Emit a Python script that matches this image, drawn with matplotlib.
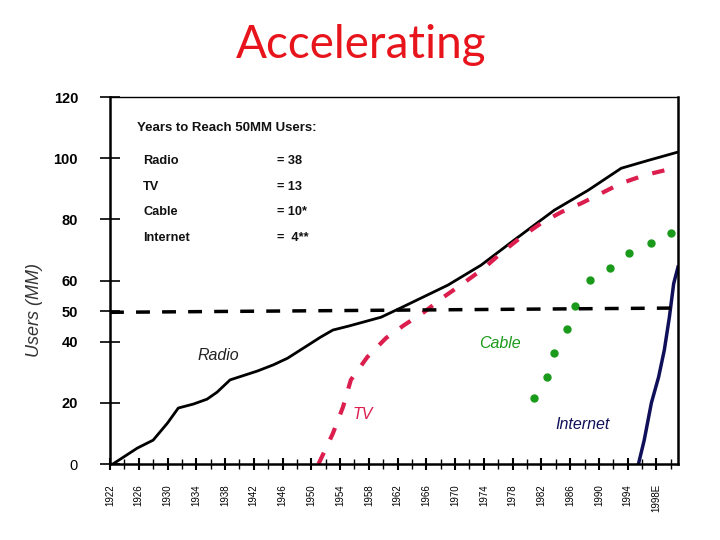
import numpy as np
import matplotlib
matplotlib.use("Agg")
import matplotlib.pyplot as plt

"""Users (MM) over time for four media, read off the reference chart"""
radio_years = [1922.4, 1925.8, 1928.0, 1930.0, 1931.5, 1933.6, 1935.5, 1936.9, 1938.7,
               1942.5, 1944.7, 1946.7, 1948.5, 1951.3, 1953.0, 1955.2, 1959.7, 1962.4,
               1969.0, 1973.6, 1978.2, 1983.8, 1988.5, 1993.1, 1996.9, 2001.0]
radio_users = [0.0, 5.2, 7.8, 13.4, 18.3, 19.6, 21.2, 23.5, 27.5,
               30.4, 32.4, 34.6, 37.3, 41.5, 43.8, 45.1, 48.0, 51.0,
               58.5, 65.0, 73.2, 83.0, 89.5, 96.7, 99.3, 102.0]

tv_years = [1951.0, 1953.0, 1954.4, 1955.5, 1957.8, 1960.4, 1962.9, 1965.7, 1968.4,
            1971.2, 1974.0, 1976.4, 1979.2, 1982.0, 1984.8, 1987.6, 1990.4, 1993.1,
            1996.3, 1999.1, 2001.0]
tv_users = [0.0, 10.0, 18.6, 27.5, 35.0, 41.2, 45.4, 49.7, 54.6,
            59.2, 64.0, 69.0, 74.2, 78.8, 82.4, 85.3, 88.6, 91.8,
            94.4, 96.0, 97.0]

cable_years = [1981.0, 1982.8, 1983.8, 1985.5, 1986.7, 1988.7, 1991.6, 1994.2, 1997.2, 2000.0]
cable_users = [21.6, 28.4, 36.3, 44.1, 51.6, 60.1, 64.0, 69.0, 72.2, 75.5]

internet_years = [1995.5, 1996.3, 1997.3, 1998.3, 1999.1, 1999.8, 2000.4, 2001.0]
internet_users = [0.0, 7.8, 20.0, 28.4, 37.3, 48.0, 59.0, 64.4]

fifty_years = [1922, 2001]
fifty_users = [49.6, 51.0]

"""Axis ticks"""
y_ticks = [0, 20, 40, 50, 60, 80, 100, 120]
x_minor = np.arange(1922, 2001, 2)
x_labels_at = np.arange(1922, 1999, 4)
x_labels = [str(y) for y in x_labels_at[:-1]] + ["1998E"]

"""Inset table"""
table_title = "Years to Reach 50MM Users:"
table_names = ["Radio", "TV", "Cable", "Internet"]
table_values = ["= 38", "= 13", "= 10*", "=  4**"]

fig = plt.figure(figsize=(7.2, 5.4), dpi=100)
ax = fig.add_axes([110/720, 1-464/540, 568/720, 367/540])

ax.plot(radio_years, radio_users, color="black", lw=2)
ax.plot(tv_years, tv_users, color="#dc1e4e", lw=3, dashes=(3, 3.5))
ax.plot(cable_years, cable_users, ls="none", marker="o", ms=5, color="#1a9a1a")
ax.plot(internet_years, internet_users, color="#10105a", lw=2.5)
ax.plot(fifty_years, fifty_users, color="black", lw=2.5, dashes=(4, 3.5))

ax.set_xlim(1922, 2001)
ax.set_ylim(0, 120)

ax.set_yticks(y_ticks)
ax.set_yticklabels([str(v) for v in y_ticks], fontweight="bold", fontsize=10.5,
                   family="Liberation Sans")
ax.get_yticklabels()[0].set_fontweight("normal")
ax.tick_params(axis="y", direction="inout", length=14, width=1.2, pad=16)

ax.set_xticks(x_minor, minor=True)
ax.set_xticks(x_labels_at)
ax.set_xticklabels(x_labels, rotation=90, fontsize=7, family="Liberation Sans")
ax.tick_params(axis="x", which="both", direction="inout", length=9, width=1.5, pad=10)
ax.tick_params(axis="x", which="minor", length=7, width=1.0)

for s in ["left", "bottom", "right"]:
    ax.spines[s].set_linewidth(1.8)
ax.spines["top"].set_linewidth(1.0)

ax.set_ylabel("Users (MM)", fontsize=13, style="italic", color="#333333",
              family="Liberation Sans")
ax.yaxis.set_label_coords(-0.118, 0.42)

# labels next to the curves
ax.text(1937, 35.5, "Radio", fontsize=11.5, style="italic", family="Liberation Sans",
        ha="center", va="center", color="#222222")
ax.text(1957.2, 16.3, "TV", fontsize=11.5, style="italic", family="Liberation Sans",
        ha="center", va="center", color="#dc1e4e")
ax.text(1976.3, 39.5, "Cable", fontsize=11.5, style="italic", family="Liberation Sans",
        ha="center", va="center", color="#1a9a1a")
ax.text(1987.7, 13, "Internet", fontsize=11.5, style="italic", family="Liberation Sans",
        ha="center", va="center", color="#10105a")

# inset table
fig.text(137/720, 1-128/540, table_title, fontsize=9.5, fontweight="bold",
         family="Liberation Sans", va="center", color="#111111")
for i in range(len(table_names)):
    yy = 1 - (161 + 25.7*i)/540
    fig.text(143/720, yy, table_names[i], fontsize=9.2, fontweight="bold",
             family="Liberation Sans", va="center", color="#111111")
    fig.text(277/720, yy, table_values[i], fontsize=9.2, fontweight="bold",
             family="Liberation Sans", va="center", color="#111111")

fig.text(361/720, 1-45/540, "Accelerating", fontsize=33, color="#e8141c",
         family="Lato", ha="center", va="center")

fig.savefig("out.png", dpi=100)
